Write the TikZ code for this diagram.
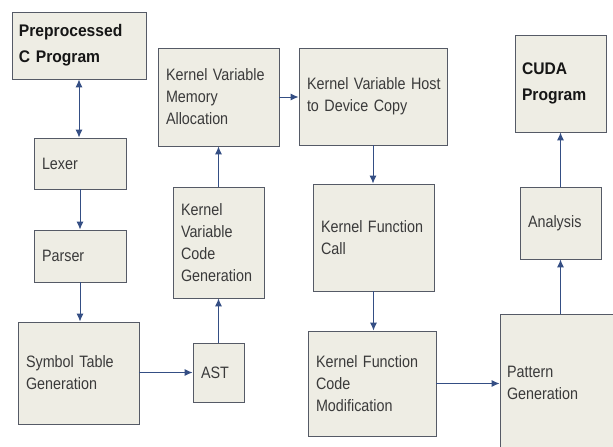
\documentclass[tikz,border=0pt]{standalone}
\usepackage{fontspec}
\setmainfont{Liberation Sans}[FakeStretch=0.87, WordSpace=0.75, BoldFeatures={FakeStretch=0.93}]
\usetikzlibrary{arrows.meta}
\definecolor{boxfill}{RGB}{238,237,228}
\definecolor{bordercol}{RGB}{85,90,102}
\definecolor{arrowcol}{RGB}{52,78,132}
\definecolor{txtcol}{RGB}{58,58,58}
\definecolor{boldcol}{RGB}{22,22,22}
\begin{document}
\begin{tikzpicture}[x=1pt,y=-1pt,
  >={Latex[length=8pt,width=7pt]},
  box/.style={draw=bordercol, fill=boxfill, line width=0.9pt, inner xsep=8pt, inner ysep=0pt,
    align=left, text=txtcol, font={\fontsize{16.5}{22}\selectfont\hyphenpenalty=10000}},
  boldbox/.style={box, text=boldcol, font={\fontsize{16.8}{26}\selectfont\bfseries}},
  arr/.style={draw=arrowcol, line width=1pt, ->},
  darr/.style={draw=arrowcol, line width=1pt, <->}]
\useasboundingbox (0,0) rectangle (613,447);
\fill[white] (0,0) rectangle (613,447);
% boxes
\node[boldbox, minimum width=134, minimum height=67, text width=120, inner xsep=7pt] (pre) at (79,45.5) {\mbox{Preprocessed}\\\mbox{C Program}};
\node[box, minimum width=92, minimum height=51, text width=76] (lex) at (80,163.5) {Lexer};
\node[box, minimum width=92, minimum height=52, text width=76] (par) at (80,256) {Parser};
\node[box, minimum width=121, minimum height=102, text width=105] (sym) at (78.5,373) {\mbox{Symbol Table}\\\mbox{Generation}};
\node[box, minimum width=51, minimum height=59, text width=35] (ast) at (218.5,372.5) {AST};
\node[box, minimum width=91, minimum height=111, text width=75] (kvcg) at (218.5,242.5) {Kernel\\Variable\\Code\\\mbox{Generation}};
\node[box, minimum width=121, minimum height=98, text width=105] (kvma) at (218.5,97) {\mbox{Kernel Variable}\\Memory\\Allocation};
\node[box, minimum width=148, minimum height=97, text width=132] (hdc) at (373,96.5) {\mbox{Kernel Variable Host}\\\mbox{to Device Copy}};
\node[box, minimum width=121, minimum height=107, text width=105] (kfc) at (373.5,237.5) {\mbox{Kernel Function}\\Call};
\node[box, minimum width=128, minimum height=105, text width=112] (kfcm) at (372,383.5) {\mbox{Kernel Function}\\Code\\\mbox{Modification}};
\node[box, minimum width=130, minimum height=138, text width=116, inner xsep=7pt] (pat) at (565,383) {Pattern\\\mbox{Generation}};
\node[box, minimum width=81, minimum height=72, text width=65] (ana) at (560.5,223) {Analysis};
\node[boldbox, minimum width=91, minimum height=97, text width=77, inner xsep=7pt] (cuda) at (560.5,83.5) {CUDA\\\mbox{Program}};
% connectors
\draw[darr] (pre.south) -- (pre.south |- lex.north);
\draw[arr] (lex.south) -- (lex.south |- par.north);
\draw[arr] (par.south) -- (par.south |- sym.north);
\draw[arr] (sym.east |- ast.west) -- (ast.west);
\draw[arr] (ast.north) -- (kvcg.south);
\draw[arr] (kvcg.north) -- (kvma.south);
\draw[arr] (kvma.east) -- (kvma.east -| hdc.west);
\draw[arr] (hdc.south) -- (hdc.south |- kfc.north);
\draw[arr] (kfc.south) -- (kfc.south |- kfcm.north);
\draw[arr] (kfcm.east) -- (kfcm.east -| pat.west);
\draw[arr] (ana.south |- pat.north) -- (ana.south);
\draw[arr] (ana.north) -- (cuda.south);
\end{tikzpicture}
\end{document}
